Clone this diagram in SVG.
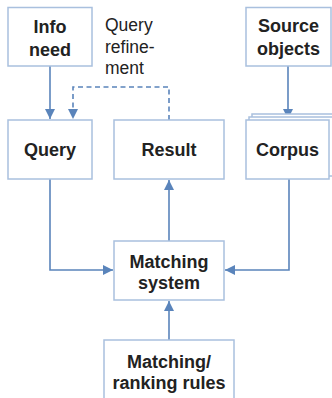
<svg xmlns="http://www.w3.org/2000/svg" width="332" height="398" viewBox="0 0 332 398">
<defs>
<style>
.box{fill:#ffffff;stroke:#a9c0de;stroke-width:1.5}
.lbl{font-family:"Liberation Sans",Arial,sans-serif;font-size:18px;font-weight:bold;fill:#222222;text-anchor:middle}
.note{font-family:"Liberation Sans",Arial,sans-serif;font-size:17.5px;fill:#222222}
.edge{fill:none;stroke:#5a84bb;stroke-width:1.6}
.dash{stroke-dasharray:5 3.5}
</style>
<marker id="ah" viewBox="0 0 10 10" refX="10" refY="5" markerWidth="10" markerHeight="10" markerUnits="userSpaceOnUse" orient="auto">
<path d="M0,0 L10,5 L0,10 Z" fill="#5a84bb"/>
</marker>
</defs>
<rect width="332" height="398" fill="#ffffff"/>
<g id="connectors">
<path class="edge" d="M50,66 V119" marker-end="url(#ah)"/>
<path class="edge" d="M288,66 V119" marker-end="url(#ah)"/>
<path class="edge dash" d="M169,120 V87 H73 V119" marker-end="url(#ah)"/>
<path class="edge" d="M50,179 V270 H113" marker-end="url(#ah)"/>
<path class="edge" d="M289,179 V270 H225" marker-end="url(#ah)"/>
<path class="edge" d="M169,241 V180" marker-end="url(#ah)"/>
<path class="edge" d="M169,340 V301" marker-end="url(#ah)"/>
</g>
<g id="info-need">
<rect class="box" x="8" y="7.5" width="84" height="58.5"/>
<text class="lbl" x="50" y="33">Info</text>
<text class="lbl" x="50" y="56">need</text>
</g>
<g id="query-refinement-label">
<text class="note" x="105" y="31">Query</text>
<text class="note" x="105" y="53">refine-</text>
<text class="note" x="105" y="74">ment</text>
</g>
<g id="source-objects">
<rect class="box" x="246" y="7.5" width="85" height="58.5"/>
<text class="lbl" x="288.5" y="32">Source</text>
<text class="lbl" x="288.5" y="55">objects</text>
</g>
<g id="query">
<rect class="box" x="8" y="120" width="84" height="59"/>
<text class="lbl" x="50" y="156">Query</text>
</g>
<g id="result">
<rect class="box" x="114" y="120" width="110" height="59"/>
<text class="lbl" x="169" y="156">Result</text>
</g>
<g id="corpus">
<rect class="box" x="252" y="114" width="84" height="59"/>
<rect class="box" x="249" y="117" width="84" height="59"/>
<rect class="box" x="246" y="120" width="83" height="59"/>
<text class="lbl" x="287.5" y="156">Corpus</text>
</g>
<g id="matching-system">
<rect class="box" x="114" y="241" width="110" height="59"/>
<text class="lbl" x="169" y="267.5">Matching</text>
<text class="lbl" x="169" y="288.5">system</text>
</g>
<g id="matching-ranking-rules">
<rect class="box" x="104" y="340" width="130" height="62"/>
<text class="lbl" x="169" y="368">Matching/</text>
<text class="lbl" x="169" y="388.5">ranking rules</text>
</g>
</svg>
